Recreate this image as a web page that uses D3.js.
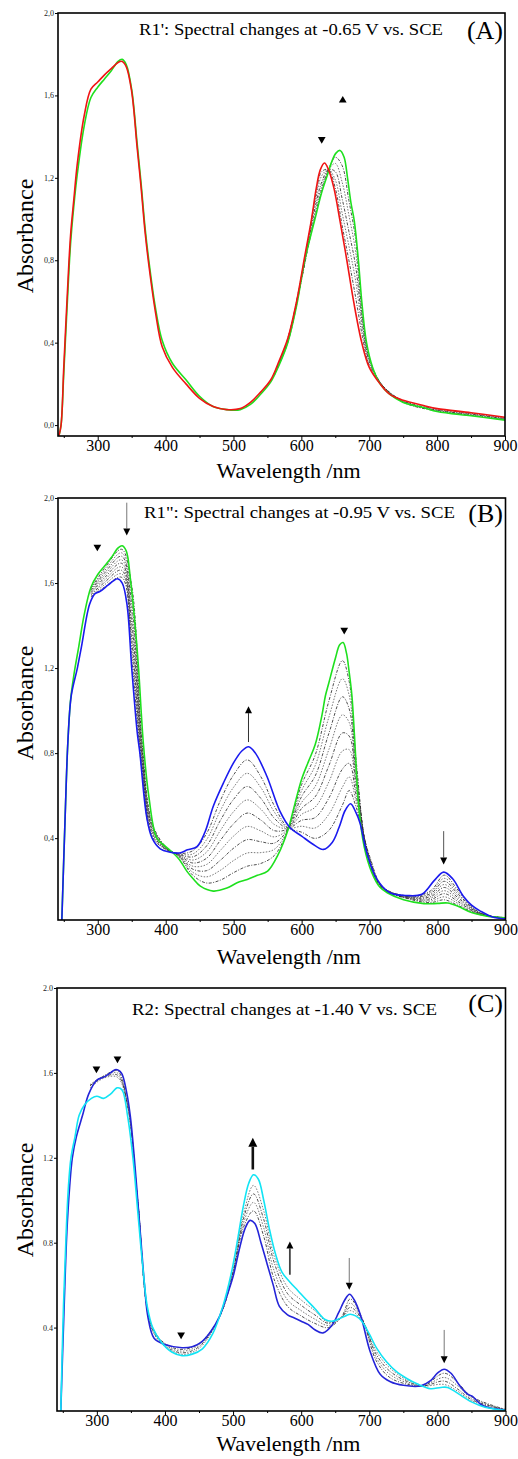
<!DOCTYPE html>
<html>
<head>
<meta charset="utf-8">
<script src="https://cdn.jsdelivr.net/npm/d3@7"></script>
<style>
  html, body { margin: 0; padding: 0; background: #fff; }
  svg { display: block; }
  svg text { font-family: "Liberation Serif", "DejaVu Serif", serif; }
</style>
</head>
<body>
<svg id="chart" width="518" height="1459"></svg>
<script>
/* ---- axis ticks ---- */
const wlTicks = [300, 400, 500, 600, 700, 800, 900];
const wlMinor = [250, 350, 450, 550, 650, 750, 850];
const absTicks = [0, 0.4, 0.8, 1.2, 1.6, 2.0];
const absLabelsComma = ['0,0', '0,4', '0,8', '1,2', '1,6', '2,0'];
const absLabelsDot = ['0.0', '0.4', '0.8', '1.2', '1.6', '2.0'];

/* ---- panel A : [wavelength, absorbance] ---- */
const redA = [[243,-0.05],[246,0.0],[250,0.28],[255,0.62],[260,0.92],[265,1.1],[270,1.27],[280,1.5],[290,1.63],[300,1.665],[310,1.70],[320,1.73],[330,1.76],[336,1.765],[342,1.74],[350,1.62],[358,1.35],[364,1.15],[370,0.93],[376,0.76],[385,0.55],[395,0.38],[410,0.28],[430,0.2],[450,0.13],[470,0.09],[490,0.075],[510,0.08],[525,0.11],[540,0.16],[555,0.22],[567,0.31],[580,0.42],[593,0.6],[605,0.82],[615,1.0],[622,1.15],[628,1.24],[634,1.272],[640,1.24],[648,1.15],[657,0.99],[667,0.8],[677,0.6],[689,0.4],[700,0.28],[716,0.2],[730,0.15],[750,0.12],[780,0.095],[800,0.08],[850,0.06],[900,0.038]];
const greenA = [[243,-0.05],[246,0.0],[250,0.25],[255,0.58],[260,0.88],[265,1.07],[270,1.22],[280,1.45],[290,1.59],[300,1.64],[310,1.68],[320,1.72],[330,1.765],[336,1.775],[342,1.75],[350,1.63],[358,1.37],[364,1.17],[370,0.95],[376,0.78],[385,0.57],[395,0.41],[410,0.3],[430,0.22],[450,0.14],[470,0.09],[490,0.075],[510,0.075],[525,0.1],[540,0.15],[555,0.21],[567,0.29],[580,0.4],[593,0.58],[605,0.8],[620,1.0],[630,1.13],[637,1.2],[645,1.28],[651,1.32],[657,1.333],[663,1.3],[668,1.2],[673,1.08],[678,0.99],[684,0.8],[689,0.6],[696,0.4],[705,0.28],[716,0.2],[730,0.15],[750,0.11],[780,0.085],[800,0.066],[850,0.045],[900,0.024]];
const gridA = [560, 580, 600, 610, 620, 630, 640, 650, 660, 670, 680, 690, 700, 720, 750, 800, 850, 900];
const interA = [
  [0.25,0.42,0.72,0.90,1.09,1.23,1.24,1.15,0.97,0.80,0.62,0.43,0.29,0.19,0.118,0.078,0.057,0.036],
  [0.25,0.42,0.71,0.89,1.07,1.21,1.24,1.19,1.03,0.87,0.70,0.46,0.30,0.19,0.116,0.075,0.054,0.033],
  [0.245,0.41,0.71,0.88,1.05,1.18,1.24,1.23,1.10,0.94,0.77,0.49,0.31,0.19,0.114,0.072,0.052,0.031],
  [0.245,0.41,0.705,0.87,1.03,1.16,1.24,1.27,1.18,1.02,0.84,0.51,0.32,0.19,0.112,0.070,0.049,0.028],
  [0.24,0.40,0.70,0.865,1.01,1.145,1.24,1.30,1.26,1.09,0.90,0.53,0.325,0.19,0.111,0.068,0.047,0.026]
];

/* ---- panel B ---- */
const greenB = [[247,0.0],[252,0.5],[256,0.85],[260,1.05],[265,1.17],[272,1.3],[280,1.45],[290,1.58],[300,1.64],[310,1.68],[320,1.72],[330,1.765],[336,1.775],[342,1.75],[348,1.62],[355,1.4],[360,1.2],[367,0.85],[375,0.6],[387,0.4],[400,0.36],[411,0.33],[420,0.3],[431,0.245],[440,0.21],[451,0.174],[470,0.151],[490,0.165],[505,0.19],[520,0.206],[535,0.225],[550,0.245],[565,0.32],[580,0.44],[590,0.56],[600,0.677],[610,0.76],[620,0.84],[630,0.98],[635,1.07],[640,1.13],[650,1.25],[656,1.31],[661,1.32],[666,1.27],[670,1.18],[674,1.07],[678,0.87],[684,0.55],[692,0.36],[703,0.24],[715,0.17],[726,0.143],[750,0.11],[780,0.092],[800,0.093],[815,0.095],[830,0.08],[850,0.05],[875,0.032],[900,0.025]];
const blueB = [[247,0.0],[252,0.5],[256,0.85],[261,1.07],[270,1.2],[276,1.3],[288,1.5],[296,1.55],[303,1.56],[315,1.59],[323,1.61],[329,1.62],[336,1.6],[343,1.5],[350,1.2],[358,0.9],[362,0.8],[372,0.5],[380,0.4],[392,0.35],[405,0.335],[420,0.33],[432,0.345],[446,0.36],[458,0.43],[470,0.55],[485,0.66],[500,0.755],[512,0.81],[522,0.83],[532,0.8],[549,0.69],[568,0.527],[583,0.449],[600,0.41],[615,0.375],[632,0.347],[645,0.38],[655,0.45],[664,0.53],[672,0.562],[680,0.52],[686,0.47],[696,0.33],[711,0.206],[730,0.143],[755,0.13],[777,0.136],[795,0.2],[809,0.24],[822,0.21],[838,0.127],[850,0.085],[863,0.057],[880,0.03],[900,0.02]];
const gridB = [290, 310, 335, 350, 365, 380, 400, 420, 440, 460, 480, 500, 520, 540, 560, 580, 600, 620, 640, 660, 670, 680, 700, 720, 760, 790, 810, 830, 860, 900];
const interB = [
  [1.535,1.581,1.627,1.243,0.718,0.408,0.347,0.328,0.341,0.421,0.574,0.698,0.768,0.689,0.551,0.449,0.428,0.399,0.436,0.555,0.624,0.548,0.315,0.169,0.128,0.153,0.226,0.156,0.054,0.021],
  [1.54,1.592,1.643,1.286,0.736,0.416,0.348,0.326,0.326,0.392,0.527,0.64,0.705,0.638,0.522,0.448,0.456,0.448,0.512,0.64,0.688,0.576,0.31,0.168,0.126,0.146,0.211,0.147,0.052,0.021],
  [1.545,1.603,1.66,1.329,0.754,0.424,0.35,0.324,0.312,0.363,0.481,0.583,0.643,0.587,0.493,0.447,0.484,0.497,0.588,0.725,0.752,0.604,0.305,0.167,0.124,0.139,0.197,0.138,0.051,0.022],
  [1.55,1.614,1.676,1.372,0.772,0.432,0.351,0.322,0.297,0.334,0.434,0.525,0.58,0.536,0.464,0.446,0.512,0.546,0.664,0.81,0.816,0.632,0.30,0.166,0.122,0.132,0.182,0.129,0.049,0.023],
  [1.555,1.625,1.693,1.415,0.79,0.44,0.353,0.32,0.283,0.305,0.388,0.468,0.518,0.485,0.435,0.445,0.54,0.595,0.74,0.895,0.88,0.66,0.295,0.165,0.12,0.125,0.168,0.12,0.048,0.024],
  [1.56,1.636,1.709,1.458,0.808,0.448,0.354,0.318,0.268,0.276,0.341,0.41,0.455,0.434,0.406,0.444,0.568,0.644,0.816,0.98,0.944,0.688,0.29,0.164,0.118,0.118,0.153,0.111,0.046,0.024],
  [1.565,1.647,1.726,1.501,0.826,0.456,0.356,0.316,0.254,0.247,0.295,0.353,0.393,0.383,0.377,0.443,0.596,0.693,0.892,1.065,1.008,0.716,0.285,0.163,0.116,0.111,0.139,0.102,0.045,0.025],
  [1.57,1.658,1.742,1.544,0.844,0.464,0.357,0.314,0.239,0.218,0.248,0.295,0.33,0.332,0.348,0.442,0.624,0.742,0.968,1.15,1.072,0.744,0.28,0.162,0.114,0.104,0.124,0.093,0.043,0.026],
  [1.575,1.669,1.759,1.587,0.862,0.472,0.359,0.312,0.225,0.189,0.202,0.238,0.268,0.281,0.319,0.441,0.652,0.791,1.044,1.235,1.136,0.772,0.275,0.161,0.112,0.097,0.11,0.084,0.042,0.026]
];

/* ---- panel C ---- */
const blueC = [[247,0.0],[252,0.5],[256,0.85],[260,1.06],[264,1.2],[270,1.3],[279,1.4],[288,1.5],[300,1.566],[310,1.58],[320,1.6],[328,1.616],[336,1.6],[343,1.52],[349,1.4],[355,1.2],[360,1.0],[365,0.8],[370,0.6],[375,0.45],[384,0.35],[400,0.32],[425,0.305],[440,0.31],[453,0.33],[467,0.38],[480,0.452],[490,0.54],[500,0.64],[510,0.78],[518,0.87],[525,0.905],[532,0.89],[541,0.8],[550,0.7],[559,0.6],[568,0.5],[580,0.46],[590,0.445],[600,0.43],[610,0.415],[620,0.39],[632,0.375],[645,0.41],[655,0.47],[664,0.53],[671,0.557],[678,0.53],[688,0.45],[701,0.29],[716,0.18],[731,0.145],[750,0.128],[775,0.125],[790,0.15],[800,0.185],[810,0.204],[820,0.185],[832,0.13],[845,0.085],[852,0.075],[865,0.035],[880,0.02],[900,0.012]];
const cyanC = [[247,0.0],[251,0.5],[255,0.85],[258,1.05],[262,1.2],[268,1.3],[274,1.4],[282,1.45],[292,1.48],[300,1.49],[310,1.48],[320,1.5],[330,1.53],[337,1.52],[345,1.4],[353,1.2],[360,0.95],[367,0.7],[374,0.5],[382,0.4],[395,0.33],[410,0.285],[425,0.268],[440,0.275],[455,0.3],[470,0.37],[485,0.5],[497,0.65],[507,0.82],[515,0.97],[523,1.08],[530,1.12],[537,1.1],[545,1.0],[553,0.87],[562,0.75],[572,0.66],[583,0.616],[595,0.575],[608,0.53],[620,0.49],[635,0.438],[645,0.43],[655,0.44],[665,0.455],[672,0.463],[680,0.455],[689,0.43],[700,0.37],[711,0.302],[725,0.24],[740,0.192],[755,0.16],[770,0.135],[790,0.112],[805,0.118],[815,0.118],[830,0.09],[850,0.05],[870,0.025],[900,0.01]];
const gridC = [290, 310, 330, 345, 360, 380, 400, 425, 450, 480, 500, 515, 530, 545, 560, 580, 600, 620, 640, 660, 672, 690, 710, 730, 760, 780, 810, 830, 850, 900];
const interC = [
  [1.54,1.585,1.61,1.45,1.0,0.415,0.325,0.297,0.325,0.45,0.655,0.87,0.95,0.83,0.63,0.5,0.455,0.42,0.40,0.455,0.535,0.44,0.245,0.165,0.13,0.125,0.185,0.14,0.075,0.014],
  [1.545,1.585,1.60,1.45,1.0,0.41,0.32,0.289,0.318,0.45,0.66,0.89,0.99,0.87,0.67,0.53,0.48,0.44,0.41,0.45,0.515,0.435,0.26,0.18,0.135,0.125,0.165,0.125,0.068,0.013],
  [1.54,1.58,1.59,1.45,1.0,0.405,0.315,0.281,0.31,0.45,0.665,0.91,1.03,0.91,0.71,0.56,0.505,0.46,0.42,0.45,0.495,0.435,0.275,0.195,0.14,0.125,0.148,0.11,0.061,0.012],
  [1.53,1.575,1.58,1.45,1.0,0.40,0.31,0.274,0.302,0.45,0.67,0.93,1.07,0.95,0.74,0.59,0.53,0.48,0.425,0.45,0.48,0.43,0.29,0.21,0.145,0.125,0.132,0.10,0.055,0.011]
];

/* ---- panel layout ---- */
const serif = '"Liberation Serif", "DejaVu Serif", serif';
const panels = [
  {
    left: 58, right: 505, top: 13, bottom: 436, yDomain: [-0.053, 2.0],
    labels: absLabelsComma, xLabelY: 478, yLabelY: 236,
    title: "R1': Spectral changes at -0.65 V vs. SCE", titleX: 139, titleY: 35, titleW: 304,
    tag: '(A)', tagY: 39,
    grid: gridA, inter: interA,
    curves: [{ data: greenA, color: '#1ee01e' }, { data: redA, color: '#f01414' }],
    marks: [{ wl: 630, a: 1.387, dir: 'down' }, { wl: 661, a: 1.576, dir: 'up' }],
    arrows: []
  },
  {
    left: 58, right: 505.5, top: 498, bottom: 920, yDomain: [0.015, 2.0],
    labels: absLabelsComma, xLabelY: 964, yLabelY: 703,
    title: 'R1": Spectral changes at -0.95 V  vs. SCE', titleX: 144, titleY: 518, titleW: 311,
    tag: '(B)', tagY: 522,
    grid: gridB, inter: interB,
    curves: [{ data: greenB, color: '#1ee01e' }, { data: blueB, color: '#1a1aef' }],
    marks: [{ wl: 299.4, a: 1.77, dir: 'down' }, { wl: 662.7, a: 1.379, dir: 'down' }],
    arrows: [
      { wl: 342.7, from: 1.978, to: 1.824, w: 1, color: '#777' },
      { wl: 521.8, from: 0.852, to: 1.021, w: 1, color: '#333' },
      { wl: 809, from: 0.433, to: 0.276, w: 1, color: '#555' }
    ]
  },
  {
    left: 57, right: 505.5, top: 988, bottom: 1411, yDomain: [0.007, 2.0],
    labels: absLabelsDot, xLabelY: 1451, yLabelY: 1200,
    title: 'R2: Spectral changes at -1.40 V  vs. SCE', titleX: 132, titleY: 1015, titleW: 305,
    tag: '(C)', tagY: 1012,
    grid: gridC, inter: interC,
    curves: [{ data: blueC, color: '#2424d8' }, { data: cyanC, color: '#12e4f4' }],
    marks: [{ wl: 299.4, a: 1.62, dir: 'down' }, { wl: 330.3, a: 1.667, dir: 'down' }, { wl: 423.7, a: 0.366, dir: 'down' }],
    arrows: [
      { wl: 529, from: 1.145, to: 1.294, w: 2.6, color: '#111' },
      { wl: 583.4, from: 0.649, to: 0.806, w: 1.8, color: '#444' },
      { wl: 670.6, from: 0.728, to: 0.578, w: 1, color: '#777' },
      { wl: 810, from: 0.389, to: 0.232, w: 1, color: '#777' }
    ]
  }
];

const svg = d3.select('#chart');
svg.append('rect').attr('width', 518).attr('height', 1459).attr('fill', '#fff');

const drawPanel = (p, idx) => {
  const x = d3.scaleLinear().domain([241.5, 900]).range([p.left, p.right]);
  const y = d3.scaleLinear().domain(p.yDomain).range([p.bottom, p.top]);
  const line = d3.line()
    .x(d => x(d[0]))
    .y(d => y(d[1]))
    .curve(d3.curveCatmullRom.alpha(0.5));
  const g = svg.append('g').attr('font-family', serif);

  g.append('clipPath').attr('id', `clip${idx}`)
    .append('rect')
    .attr('x', p.left).attr('y', p.top)
    .attr('width', p.right - p.left).attr('height', p.bottom - p.top);
  const plot = g.append('g').attr('clip-path', `url(#clip${idx})`);

  // intermediate spectra, thin dotted
  p.inter.forEach((vals, k) => {
    plot.append('path')
      .datum(p.grid.map((w, i) => [w, vals[i]]))
      .attr('d', line)
      .attr('fill', 'none')
      .attr('stroke', k % 2 ? '#555' : '#222')
      .attr('stroke-width', 0.8)
      .attr('stroke-dasharray', k % 2 ? '1.5,1.5' : '3,1.5,1,1.5');
  });

  // first and last spectra
  p.curves.forEach(c => {
    plot.append('path')
      .datum(c.data)
      .attr('d', line)
      .attr('fill', 'none')
      .attr('stroke', c.color)
      .attr('stroke-width', 1.6)
      .attr('stroke-linejoin', 'round');
  });

  // x axis
  const xAxis = g.append('g').attr('transform', `translate(0,${p.bottom})`)
    .call(d3.axisBottom(x).tickValues(wlTicks).tickSize(4).tickFormat(d3.format('d')));
  xAxis.attr('font-family', serif);
  xAxis.selectAll('text').attr('y', 4).attr('font-size', 16)
    .attr('font-family', serif).attr('fill', '#000');
  g.append('g').attr('transform', `translate(0,${p.bottom})`)
    .call(d3.axisBottom(x).tickValues(wlMinor).tickSize(2).tickFormat(''));

  // y axis
  const shown = absTicks.filter(t => t >= p.yDomain[0] - 1e-9);
  const yAxis = g.append('g').attr('transform', `translate(${p.left},0)`)
    .call(d3.axisLeft(y).tickValues(shown).tickSize(3)
      .tickFormat(t => p.labels[absTicks.indexOf(t)]));
  yAxis.attr('font-family', serif);
  yAxis.selectAll('text').attr('font-size', 8).attr('x', -4)
    .attr('font-family', serif).attr('fill', '#222');

  g.selectAll('.domain').remove();
  g.selectAll('.tick line').attr('stroke', '#000');

  // frame
  g.append('rect')
    .attr('x', p.left).attr('y', p.top)
    .attr('width', p.right - p.left).attr('height', p.bottom - p.top)
    .attr('fill', 'none').attr('stroke', '#000').attr('stroke-width', 1.6);

  // axis titles
  g.append('text')
    .attr('x', (p.left + p.right) / 2 + 7).attr('y', p.xLabelY)
    .attr('text-anchor', 'middle').attr('font-size', 22)
    .attr('font-family', serif)
    .text('Wavelength /nm');
  g.append('text')
    .attr('transform', `translate(33,${p.yLabelY}) rotate(-90)`)
    .attr('text-anchor', 'middle').attr('font-size', 24)
    .attr('font-family', serif)
    .text('Absorbance');

  // panel title and tag
  g.append('text')
    .attr('x', p.titleX).attr('y', p.titleY)
    .attr('font-size', 17).attr('font-family', serif)
    .attr('textLength', p.titleW).attr('lengthAdjust', 'spacingAndGlyphs')
    .text(p.title);
  g.append('text')
    .attr('x', 503).attr('y', p.tagY)
    .attr('text-anchor', 'end').attr('font-size', 26)
    .attr('font-family', serif)
    .text(p.tag);

  // small triangles
  const tri = d3.symbol(d3.symbolTriangle, 26);
  p.marks.forEach(m => {
    g.append('path')
      .attr('d', tri)
      .attr('transform', `translate(${x(m.wl)},${y(m.a)}) rotate(${m.dir === 'down' ? 180 : 0})`)
      .attr('fill', '#000');
  });

  // arrows
  p.arrows.forEach(a => {
    const x0 = x(a.wl);
    const y0 = y(a.from);
    const y1 = y(a.to);
    const s = y1 > y0 ? 1 : -1;
    const hl = a.w > 2 ? 9 : 7;
    const hw = a.w > 2 ? 4.5 : 3.5;
    g.append('line')
      .attr('x1', x0).attr('x2', x0)
      .attr('y1', y0).attr('y2', y1 - s * hl)
      .attr('stroke', a.color).attr('stroke-width', a.w);
    g.append('path')
      .attr('d', `M${x0},${y1}L${x0 - hw},${y1 - s * hl}L${x0 + hw},${y1 - s * hl}Z`)
      .attr('fill', '#000');
  });
};

panels.forEach(drawPanel);
</script>
</body>
</html>
